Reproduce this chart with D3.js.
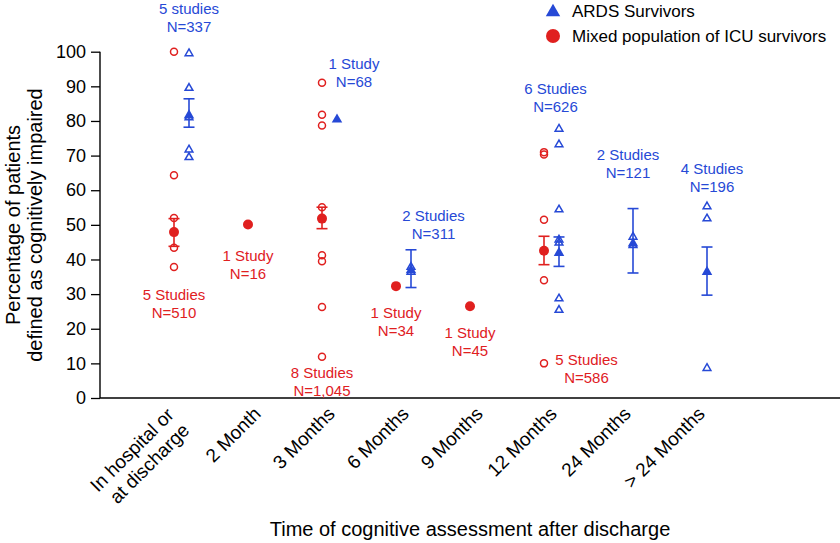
<!DOCTYPE html>
<html><head><meta charset="utf-8">
<script src="https://cdn.jsdelivr.net/npm/d3@7"></script>
<style>
body{margin:0;background:#fff}
svg{display:block;font-family:"Liberation Sans", Arial, Helvetica, sans-serif}
</style>
</head><body>
<svg id="chart" width="840" height="543"></svg>
<script>
// ---------- data ----------
const categories = ["hosp", "2m", "3m", "6m", "9m", "12m", "24m", "gt24m"];
const categoryLabels = [["In hospital or", "at discharge"], ["2 Month"], ["3 Months"], ["6 Months"], ["9 Months"], ["12 Months"], ["24 Months"], ["> 24 Months"]];
const yTicks = [0, 10, 20, 30, 40, 50, 60, 70, 80, 90, 100];

// Mixed population of ICU survivors (red circles)
const mixedStudyValues = [[100, 64.3, 52, 43.4, 37.8], [], [91, 81.8, 78.7, 55.1, 41.2, 39.5, 26.3, 11.9], [], [], [71, 70.3, 51.5, 34, 10], [], []];
const mixedMean = [47.9, 50.1, 51.8, 32.3, 26.5, 42.5, null, null];
const mixedLow  = [43.8, null, 48.9, null, null, 38.5, null, null];
const mixedHigh = [51.8, null, 55.1, null, null, 46.7, null, null];
const mixedNotes = [["5 Studies", "N=510"], ["1 Study", "N=16"], ["8 Studies", "N=1,045"], ["1 Study", "N=34"], ["1 Study", "N=45"], ["5 Studies", "N=586"], null, null];
const mixedNoteAt = [29.7, 41.2, 7.2, 24.5, 18.9, 11.2, null, null];

// ARDS survivors (blue triangles)
const ardsStudyValues = [[99.5, 89.5, 81, 71.7, 69.5], [], [], [37.8, 36.4], [], [77.7, 73.2, 54.4, 45.7, 44.8, 28.7, 25.4], [46.5, 44.1], [55.3, 51.8, 8.6]];
const ardsMean = [81.6, null, 80.4, 36.9, null, 41.9, 44.6, 36.4];
const ardsLow  = [78.2, null, null, 31.9, null, 38.0, 36.1, 29.7];
const ardsHigh = [86.4, null, null, 42.8, null, 46.5, 54.7, 43.6];
const ardsNotes = [["5 studies", "N=337"], null, ["1 Study", "N=68"], ["2 Studies", "N=311"], null, ["6 Studies", "N=626"], ["2 Studies", "N=121"], ["4 Studies", "N=196"]];
const ardsNoteAt = [112.4, null, 96.5, 52.7, null, 89.2, 70.3, 66.2];

const legendLabels = ["ARDS Survivors", "Mixed population of ICU survivors"];
const yTitle = ["Percentage of patients", "defined as cognitively impaired"];
const xTitle = "Time of cognitive assessment after discharge";

// ---------- layout ----------
const BLUE = "#2649d6", RED = "#e0201f";
const mixedNoteDx = [0, 0, 0, 0, 0, 42.5, 0, 0];
const ardsNoteDx = [0, 0, 17, 22.5, 0, -3.5, -5, 5];
const svg = d3.select("#chart");

const x = d3.scalePoint().domain(categories).range([181.5, 699.5]);
const y = d3.scaleLinear().domain([0, 100]).range([398, 51.7]);
const xMixed = c => x(c) - 7.5;
const xArds = c => x(c) + 7.5;

// y axis
const yAxis = svg.append("g").attr("transform", "translate(100,0)")
  .call(d3.axisLeft(y).tickValues(yTicks).tickSize(9).tickPadding(5).tickFormat(d3.format("d")));
yAxis.select(".domain").attr("d", `M0,${y(100)}V${y(0)}`).attr("stroke", "#000").attr("stroke-width", 1.4);
yAxis.selectAll(".tick line").attr("stroke", "#000").attr("stroke-width", 1.3);
yAxis.selectAll(".tick text").attr("font-size", 18).attr("fill", "#000").attr("font-family", "Liberation Sans, Arial, sans-serif");

// x axis line
svg.append("line").attr("x1", 100).attr("x2", 840).attr("y1", y(0)).attr("y2", y(0))
  .attr("stroke", "#000").attr("stroke-width", 1.4);

// x tick labels (rotated)
categories.forEach((c, i) => {
  const lines = categoryLabels[i];
  const n = lines.length;
  lines.forEach((t, j) => {
    let px = x(c) + 6.5, py = 415;
    if (n > 1) {
      const off = (j - (n - 1) / 2) * 22 * Math.SQRT1_2;
      px += off - 5.2; py += off + 8.8;
    }
    svg.append("text").attr("transform", `translate(${px},${py}) rotate(-45)`)
      .attr("text-anchor", "end").attr("font-size", 19).attr("fill", "#000").text(t);
  });
});

// axis titles
svg.append("text").attr("x", 470).attr("y", 536).attr("text-anchor", "middle")
  .attr("font-size", 20).attr("fill", "#000").text(xTitle);
yTitle.forEach((t, j) => {
  svg.append("text").attr("transform", `translate(${19.5 + j * 22.5},225) rotate(-90)`)
    .attr("text-anchor", "middle").attr("font-size", 20).attr("fill", "#000").text(t);
});

// error bars
function errorBars(low, high, xf, color) {
  categories.forEach((c, i) => {
    if (low[i] == null || high[i] == null) return;
    const cx = xf(c);
    const g = svg.append("g").attr("stroke", color).attr("stroke-width", 1.6).attr("fill", "none");
    g.append("line").attr("x1", cx).attr("x2", cx).attr("y1", y(high[i])).attr("y2", y(low[i]));
    [low[i], high[i]].forEach(v => g.append("line").attr("x1", cx - 5.5).attr("x2", cx + 5.5).attr("y1", y(v)).attr("y2", y(v)));
  });
}
errorBars(mixedLow, mixedHigh, xMixed, RED);
errorBars(ardsLow, ardsHigh, xArds, BLUE);

// individual studies
const triOpen = d3.symbol().type(d3.symbolTriangle).size(26);
const triFilled = d3.symbol().type(d3.symbolTriangle).size(48);
categories.forEach((c, i) => {
  mixedStudyValues[i].forEach(v => {
    svg.append("circle").attr("cx", xMixed(c)).attr("cy", y(v)).attr("r", 3.5)
      .attr("fill", "none").attr("stroke", RED).attr("stroke-width", 1.5);
  });
  ardsStudyValues[i].forEach(v => {
    svg.append("path").attr("d", triOpen()).attr("transform", `translate(${xArds(c)},${y(v)})`)
      .attr("fill", "none").attr("stroke", BLUE).attr("stroke-width", 1.5);
  });
});

// means
categories.forEach((c, i) => {
  if (mixedMean[i] != null)
    svg.append("circle").attr("cx", xMixed(c)).attr("cy", y(mixedMean[i])).attr("r", 5).attr("fill", RED);
  if (ardsMean[i] != null)
    svg.append("path").attr("d", triFilled()).attr("transform", `translate(${xArds(c)},${y(ardsMean[i])})`).attr("fill", BLUE);
});

// annotations
function notes(arr, at, dx, xf, color) {
  categories.forEach((c, i) => {
    if (!arr[i]) return;
    const cx = xf(c) + dx[i];
    const cy = y(at[i]);
    arr[i].forEach((t, j) => {
      svg.append("text").attr("x", cx).attr("y", cy + 5.3 + j * 18).attr("text-anchor", "middle")
        .attr("font-size", 15).attr("fill", color).text(t);
    });
  });
}
notes(mixedNotes, mixedNoteAt, mixedNoteDx, xMixed, RED);
notes(ardsNotes, ardsNoteAt, ardsNoteDx, xArds, BLUE);

// legend
const lg = svg.append("g");
lg.append("path").attr("d", d3.symbol().type(d3.symbolTriangle).size(90)()).attr("transform", "translate(553,12)").attr("fill", BLUE);
lg.append("circle").attr("cx", 553).attr("cy", 36).attr("r", 7).attr("fill", RED);
legendLabels.forEach((t, j) => {
  lg.append("text").attr("x", 572).attr("y", 17 + j * 25).attr("font-size", 17).attr("fill", "#000").text(t);
});
</script>
</body></html>
